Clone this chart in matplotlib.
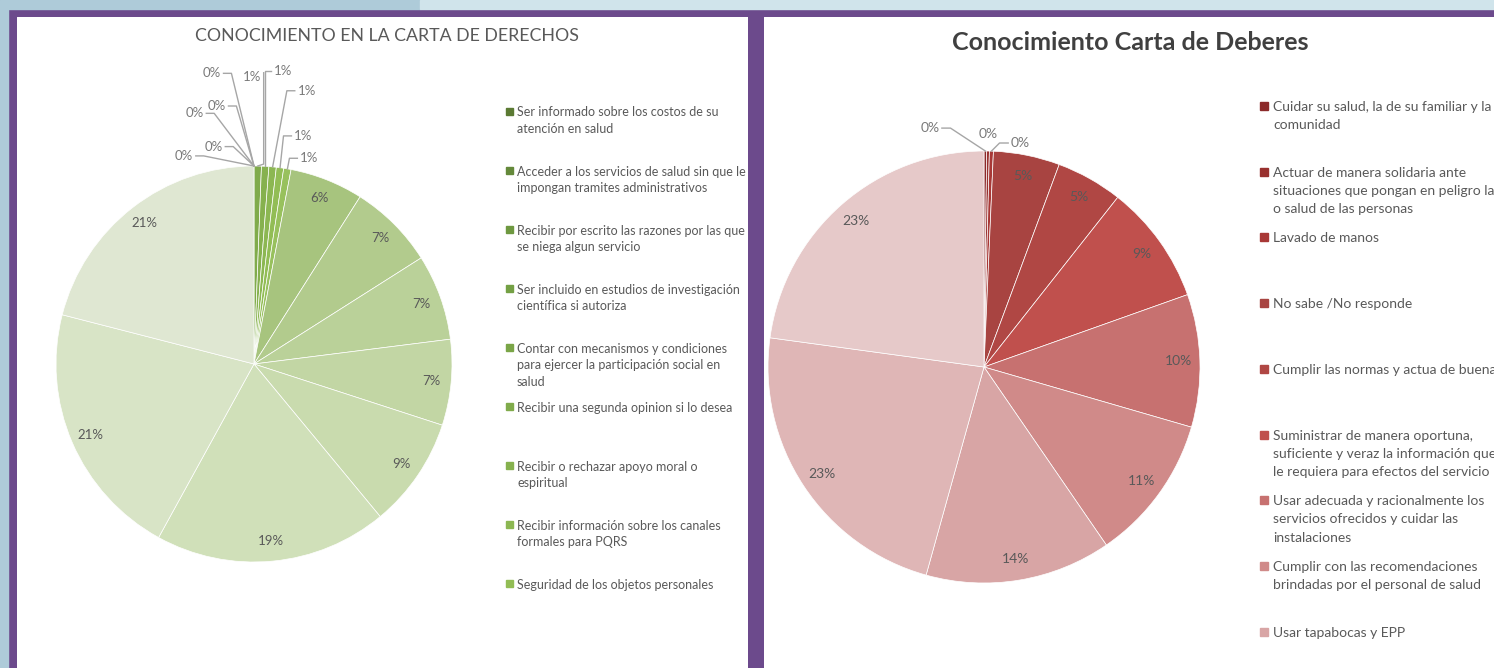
import numpy as np
import matplotlib.pyplot as plt
from matplotlib.patches import Rectangle

W, H = 1494, 668
plt.rcParams["font.family"] = ["Lato", "DejaVu Sans"]

# ---------------- datos ----------------
derechos_labels = [
    "Ser informado sobre los costos de su\natención en salud",
    "Acceder a los servicios de salud sin que le\nimpongan tramites administrativos",
    "Recibir por escrito las razones por las que\nse niega algun servicio",
    "Ser incluido en estudios de investigación\ncientífica si autoriza",
    "Contar con mecanismos y condiciones\npara ejercer la participación social en\nsalud",
    "Recibir una segunda opinion si lo desea",
    "Recibir o rechazar apoyo moral o\nespiritual",
    "Recibir información sobre los canales\nformales para PQRS",
    "Seguridad de los objetos personales",
]
derechos_vals = [0, 0, 0, 0, 0, 0.6, 0.6, 0.6, 0.6, 0.6, 6, 7, 7, 7, 9, 19, 21, 21]
derechos_colors = ["#5b7a33", "#64893a", "#6e9840", "#74a044", "#7aa547",
                   "#80ab4b", "#86b14e", "#8cb752", "#92bd55", "#98c15d",
                   "#a7c47e", "#b2cb8d", "#bad199", "#c2d6a4", "#c9dbae",
                   "#d0e0b9", "#d8e4c6", "#dfe7d2"]

deberes_labels = [
    "Cuidar su salud, la de su familiar y la\ncomunidad",
    "Actuar de manera solidaria ante\nsituaciones que pongan en peligro la vida\no salud de las personas",
    "Lavado de manos",
    "No sabe /No responde",
    "Cumplir las normas y actua de buena fe",
    "Suministrar de manera oportuna,\nsuficiente y veraz la información que\nle requiera para efectos del servicio",
    "Usar adecuada y racionalmente los\nservicios ofrecidos y cuidar las\ninstalaciones",
    "Cumplir con las recomendaciones\nbrindadas por el personal de salud",
    "Usar tapabocas y EPP",
]
deberes_vals = [0.2, 0.2, 0.3, 5, 5, 9, 10, 11, 14, 23, 23]
deberes_colors = ["#8c2a2a", "#98302e", "#a83836", "#a84441", "#b04744",
                  "#c0504d", "#c77170", "#d08a89", "#d8a5a5", "#dfb6b6", "#e6c9c9"]

# posiciones de las etiquetas externas (en radios del pie)
derechos_small_pos = [(-0.214, 1.468), (-0.189, 1.303), (-0.301, 1.266), (-0.205, 1.098),
                      (-0.354, 1.051), (-0.012, 1.451), (0.148, 1.481), (0.266, 1.380),
                      (0.249, 1.152), (0.279, 1.039)]
deberes_small_pos = [(-0.25, 1.106), (0.02, 1.08), (0.167, 1.037)]

PURPLE = "#6c4a8c"
TXT = "#595959"


def draw_pie(fig, cx, cy, r, vals, colors, small_pos, fs, hw):
    span = 1.6
    ax = fig.add_axes([(cx - span * r) / W, (H - cy - span * r) / H,
                       2 * span * r / W, 2 * span * r / H], zorder=3)
    wedges, _ = ax.pie(vals, colors=colors, startangle=90, counterclock=False,
                       wedgeprops=dict(edgecolor="white", linewidth=0.5))
    ax.set_xlim(-span, span)
    ax.set_ylim(-span, span)
    ax.axis("off")
    k = 0
    for w, v in zip(wedges, vals):
        ang = np.deg2rad((w.theta1 + w.theta2) / 2)
        x, y = np.cos(ang), np.sin(ang)
        txt = f"{v:.0f}%"
        if v >= 3:
            ax.text(0.9 * x, 0.9 * y, txt, ha="center", va="center", fontsize=fs, color=TXT)
            continue
        lx, ly = small_pos[k]
        k += 1
        ax.text(lx, ly, txt, ha="center", va="center", fontsize=fs, color="#7a7a7a")
        if abs(lx - x) < hw:
            if ly - 1.0 > 0.12:
                ax.plot([x + 0.03, x + 0.03, x], [ly + 0.02, y + 0.01, y], color="#a6a6a6", lw=1)
            continue
        side = 1 if x > lx else -1
        sx = lx + side * hw
        ex = sx + side * min(0.04, abs(x - sx))
        ax.plot([sx, ex, x], [ly, ly, y], color="#a6a6a6", lw=1)
    return wedges


def legend(pax, labels, colors, sq_x, tx, y0, dy, s, fs, ls):
    for i, (lab, col) in enumerate(zip(labels, colors)):
        y = y0 + i * dy
        pax.add_patch(Rectangle((sq_x, y - s / 2), s, s, color=col, clip_on=True))
        pax.text(tx, y - fs * 0.5, lab, ha="left", va="top", fontsize=fs, color=TXT,
                 linespacing=ls, clip_on=True)


fig = plt.figure(figsize=(W / 100, H / 100), dpi=100)

# fondo
bg = fig.add_axes([0, 0, 1, 1], zorder=0)
bg.set_xlim(0, W)
bg.set_ylim(H, 0)
bg.axis("off")
bg.add_patch(Rectangle((0, 0), W, H, color=PURPLE))
bg.add_patch(Rectangle((0, 0), 420, 9, color="#aecbd9"))
bg.add_patch(Rectangle((420, 0), W - 420, 9, color="#d0e4eb"))
bg.add_patch(Rectangle((0, 0), 8, H, color="#aecbd9"))

# paneles blancos
left = fig.add_axes([17 / W, 0, (748 - 17) / W, (H - 17) / H], zorder=1)
left.set_xlim(17, 748)
left.set_ylim(H, 17)
left.axis("off")
left.add_patch(Rectangle((17, 17), 731, H, color="white"))

right = fig.add_axes([764 / W, 0, (W - 764) / W, (H - 17) / H], zorder=1)
right.set_xlim(764, W)
right.set_ylim(H, 17)
right.axis("off")
right.add_patch(Rectangle((764, 17), W - 764, H, color="white"))

left.text(387, 36, "CONOCIMIENTO EN LA CARTA DE DERECHOS", ha="center", va="center",
          fontsize=12.8, color=TXT)
right.text(1130, 42, "Conocimiento Carta de Deberes", ha="center", va="center",
           fontsize=18, fontweight="bold", color="#404040")

draw_pie(fig, 254, 364, 198, derechos_vals, derechos_colors, derechos_small_pos, 9.5, 0.06)
draw_pie(fig, 984, 367, 216, deberes_vals, deberes_colors, deberes_small_pos, 10, 0.055)

legend(left, derechos_labels, derechos_colors, 506, 517, 111, 59.1, 7, 9, 1.43)
legend(right, deberes_labels, deberes_colors, 1260, 1273, 106, 65.7, 8, 10, 1.62)

fig.savefig("out.png", dpi=100)
